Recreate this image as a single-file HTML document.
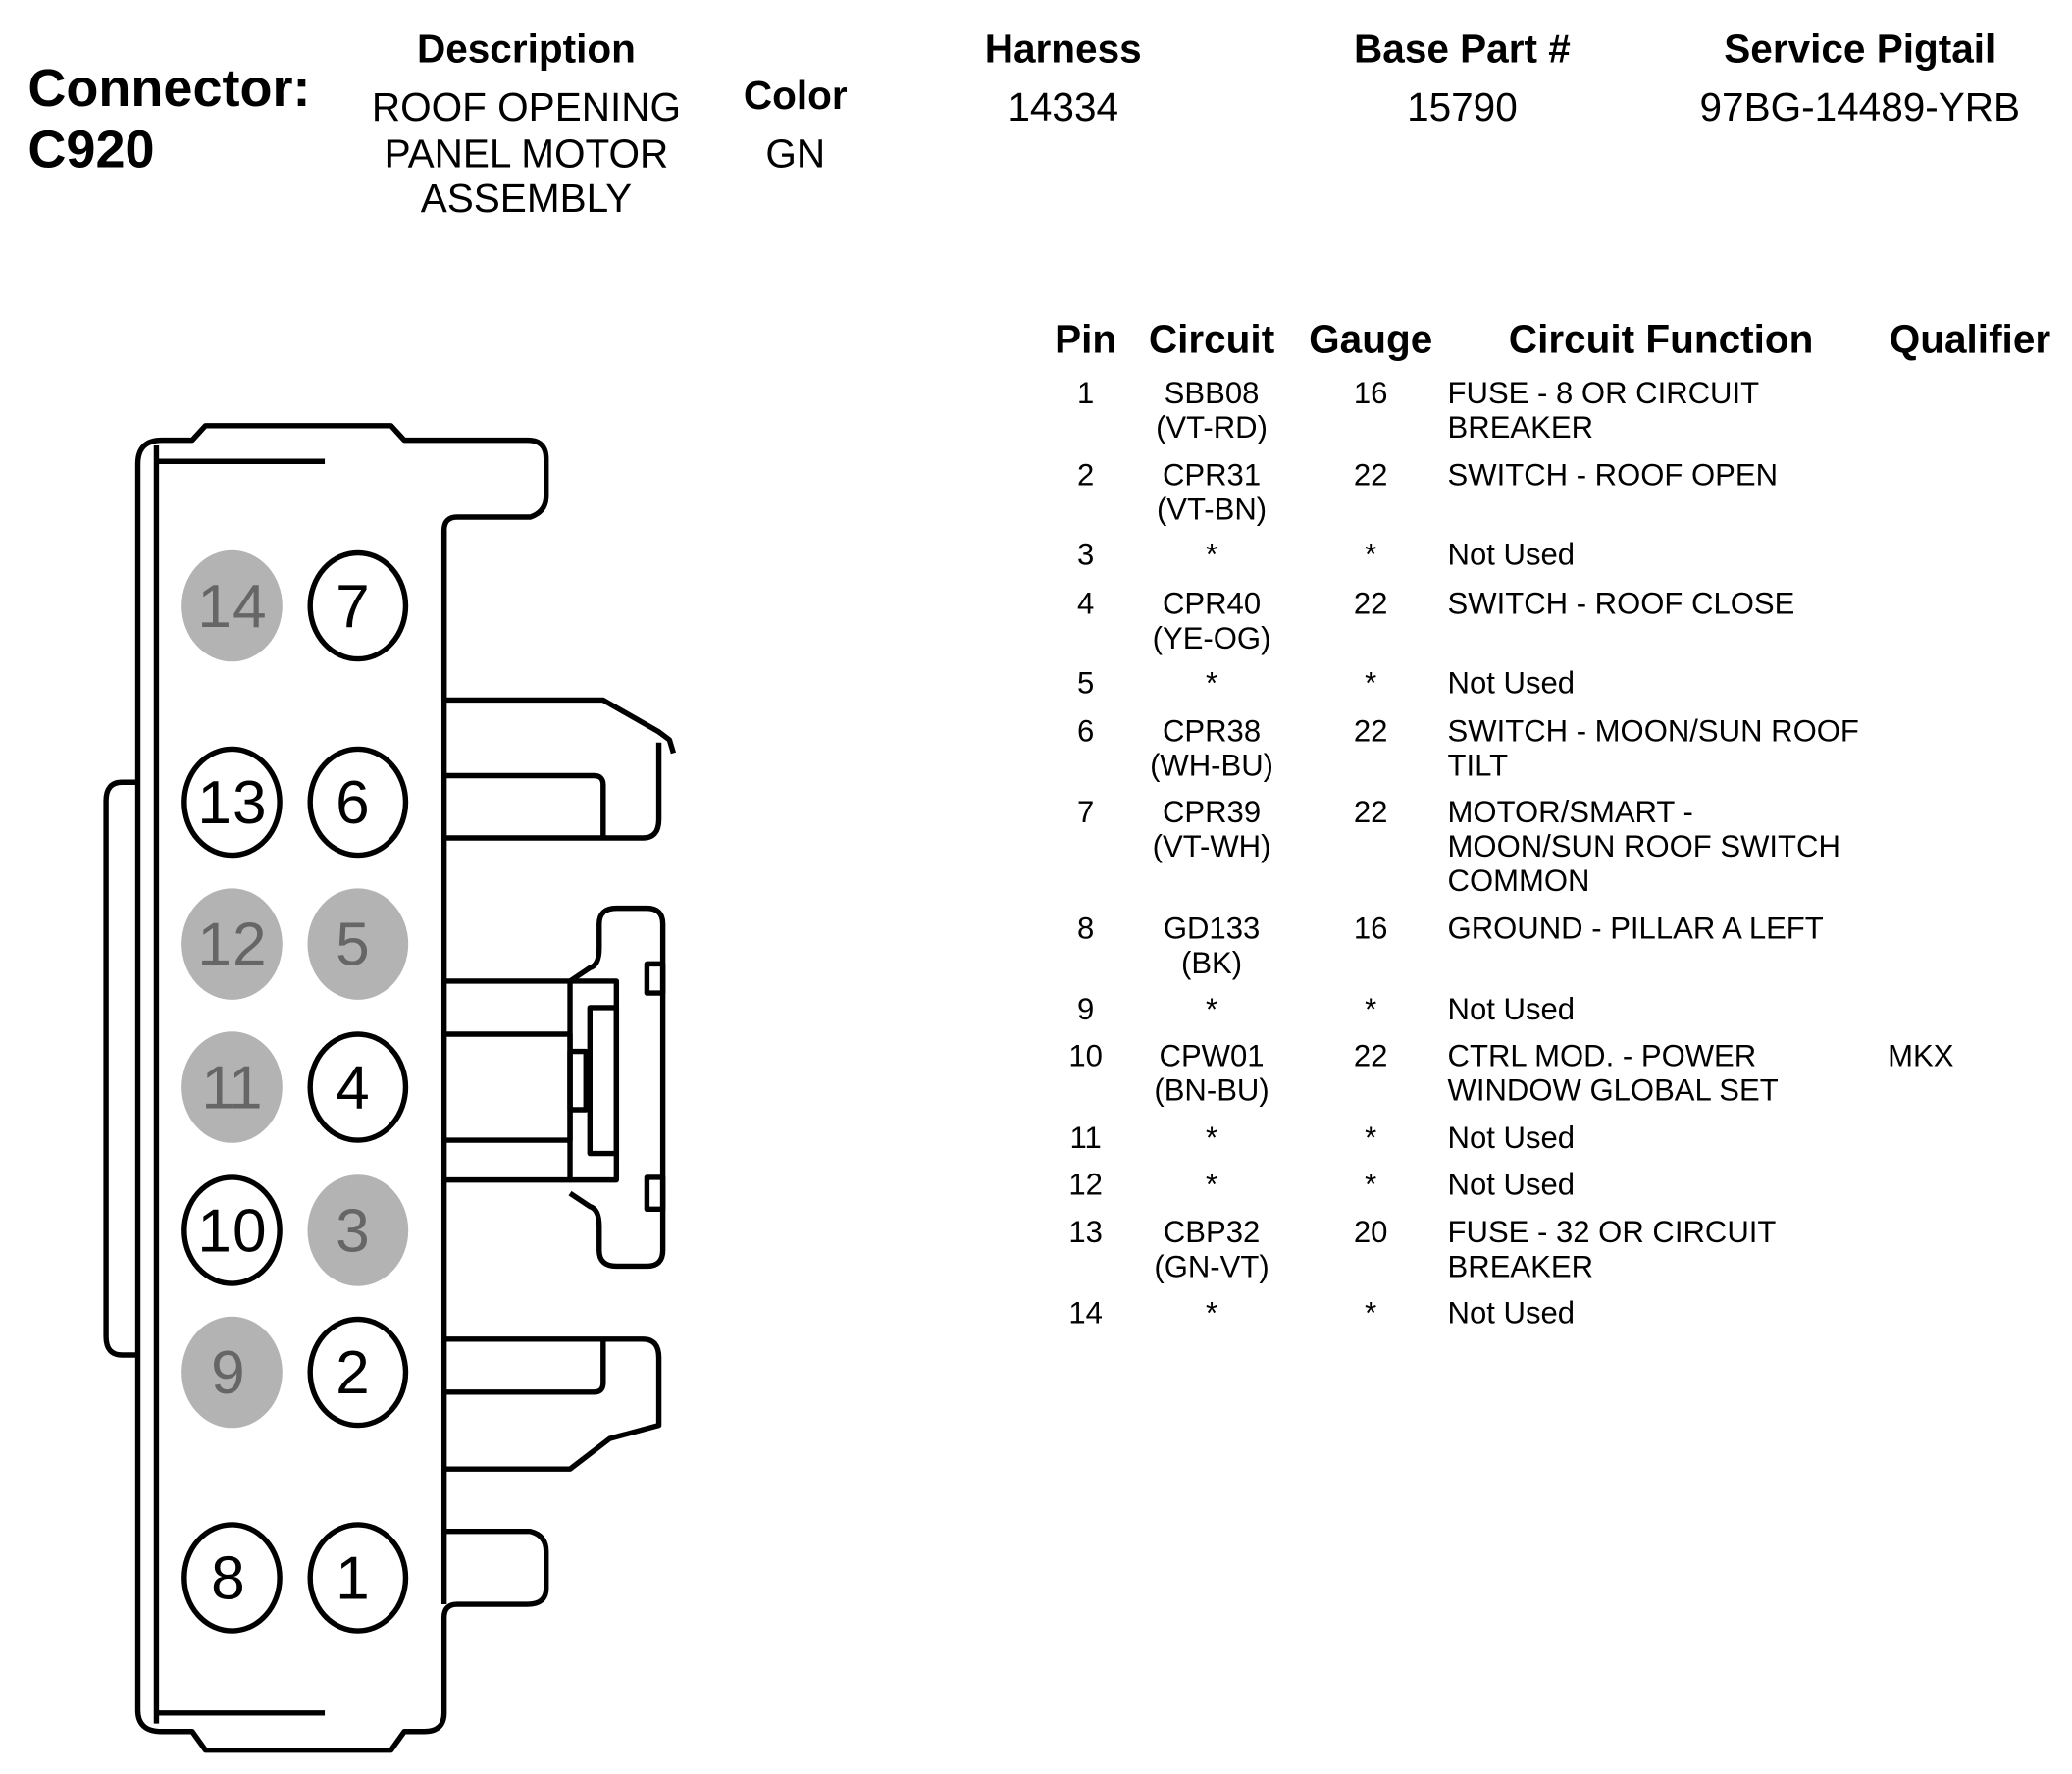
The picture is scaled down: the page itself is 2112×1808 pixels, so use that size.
<!DOCTYPE html>
<html><head><meta charset="utf-8"><style>
html,body{margin:0;padding:0;background:#fff;}
svg{display:block;}
text{font-family:"Liberation Sans",Arial,sans-serif;fill:#000;}
.b{font-weight:bold;}
.h{font-size:30px;font-weight:bold;text-anchor:middle;}
.v{font-size:30px;text-anchor:middle;}
.t{font-size:23px;}
.c{text-anchor:middle;}
.pin{font-size:46px;text-anchor:middle;}
.g{fill:#666;}
</style></head><body>
<svg width="2112" height="1808" viewBox="0 0 1563 1338" xmlns="http://www.w3.org/2000/svg">
<rect width="1563" height="1338" fill="#fff"/>
<text x="21" y="80" class="b" font-size="40">Connector:</text>
<text x="21" y="126" class="b" font-size="40">C920</text>
<text x="397" y="47" class="h">Description</text>
<text x="397" y="91" class="v">ROOF OPENING</text>
<text x="397" y="126" class="v">PANEL MOTOR</text>
<text x="397" y="160" class="v">ASSEMBLY</text>
<text x="600" y="82" class="h">Color</text>
<text x="600" y="126" class="v">GN</text>
<text x="802" y="47" class="h">Harness</text>
<text x="802" y="91" class="v">14334</text>
<text x="1103" y="47" class="h">Base Part #</text>
<text x="1103" y="91" class="v">15790</text>
<text x="1403" y="47" class="h">Service Pigtail</text>
<text x="1403" y="91" class="v">97BG-14489-YRB</text>
<g transform="translate(-3,-2)">
<text x="822" y="268" class="h">Pin</text>
<text x="917" y="268" class="h">Circuit</text>
<text x="1037" y="268" class="h">Gauge</text>
<text x="1256" y="268" class="h">Circuit Function</text>
<text x="1489" y="268" class="h">Qualifier</text>
<g class="t">
<text x="822" y="306" class="c">1</text><text x="917" y="306" class="c">SBB08</text><text x="917" y="332" class="c">(VT-RD)</text><text x="1037" y="306" class="c">16</text><text x="1095" y="306">FUSE - 8 OR CIRCUIT</text><text x="1095" y="332">BREAKER</text>
<text x="822" y="368" class="c">2</text><text x="917" y="368" class="c">CPR31</text><text x="917" y="394" class="c">(VT-BN)</text><text x="1037" y="368" class="c">22</text><text x="1095" y="368">SWITCH - ROOF OPEN</text>
<text x="822" y="428" class="c">3</text><text x="917" y="428" class="c">*</text><text x="1037" y="428" class="c">*</text><text x="1095" y="428">Not Used</text>
<text x="822" y="465" class="c">4</text><text x="917" y="465" class="c">CPR40</text><text x="917" y="491" class="c">(YE-OG)</text><text x="1037" y="465" class="c">22</text><text x="1095" y="465">SWITCH - ROOF CLOSE</text>
<text x="822" y="525" class="c">5</text><text x="917" y="525" class="c">*</text><text x="1037" y="525" class="c">*</text><text x="1095" y="525">Not Used</text>
<text x="822" y="561" class="c">6</text><text x="917" y="561" class="c">CPR38</text><text x="917" y="587" class="c">(WH-BU)</text><text x="1037" y="561" class="c">22</text><text x="1095" y="561">SWITCH - MOON/SUN ROOF</text><text x="1095" y="587">TILT</text>
<text x="822" y="622" class="c">7</text><text x="917" y="622" class="c">CPR39</text><text x="917" y="648" class="c">(VT-WH)</text><text x="1037" y="622" class="c">22</text><text x="1095" y="622">MOTOR/SMART -</text><text x="1095" y="648">MOON/SUN ROOF SWITCH</text><text x="1095" y="674">COMMON</text>
<text x="822" y="710" class="c">8</text><text x="917" y="710" class="c">GD133</text><text x="917" y="736" class="c">(BK)</text><text x="1037" y="710" class="c">16</text><text x="1095" y="710">GROUND - PILLAR A LEFT</text>
<text x="822" y="771" class="c">9</text><text x="917" y="771" class="c">*</text><text x="1037" y="771" class="c">*</text><text x="1095" y="771">Not Used</text>
<text x="822" y="806" class="c">10</text><text x="917" y="806" class="c">CPW01</text><text x="917" y="832" class="c">(BN-BU)</text><text x="1037" y="806" class="c">22</text><text x="1095" y="806">CTRL MOD. - POWER</text><text x="1095" y="832">WINDOW GLOBAL SET</text><text x="1427" y="806">MKX</text>
<text x="822" y="868" class="c">11</text><text x="917" y="868" class="c">*</text><text x="1037" y="868" class="c">*</text><text x="1095" y="868">Not Used</text>
<text x="822" y="903" class="c">12</text><text x="917" y="903" class="c">*</text><text x="1037" y="903" class="c">*</text><text x="1095" y="903">Not Used</text>
<text x="822" y="939" class="c">13</text><text x="917" y="939" class="c">CBP32</text><text x="917" y="965" class="c">(GN-VT)</text><text x="1037" y="939" class="c">20</text><text x="1095" y="939">FUSE - 32 OR CIRCUIT</text><text x="1095" y="965">BREAKER</text>
<text x="822" y="1000" class="c">14</text><text x="917" y="1000" class="c">*</text><text x="1037" y="1000" class="c">*</text><text x="1095" y="1000">Not Used</text>
</g>
</g>
<g fill="none" stroke="#000" stroke-width="4" stroke-linejoin="round">
<path d="M104,1290 L104,350 Q104,332 122,332 L145,332 L155,321 L295,321 L305,332 L398,332 Q412,332 412,346 L412,374 Q412,386 400,390 L345,390 Q335,390 335,400 L335,528 L455,528 L497,552 L505,558 L508,568 M497,560 L497,618 Q497,632 485,632 L335,632 M335,585 L448,585 Q455,585 455,592 L455,632 M335,740 L430,740 M335,780 L430,780 L430,860 L335,860 M335,890 L430,890 M335,1010 L485,1010 Q497,1010 497,1024 L497,1075 L460,1085 L430,1108 L335,1108 M335,1050 L448,1050 Q455,1050 455,1043 L455,1010 M335,1155 L400,1155 Q412,1158 412,1170 L412,1198 Q412,1210 398,1210 L345,1210 Q335,1210 335,1220 L335,1292 Q335,1306 320,1306 L305,1306 L295,1320 L155,1320 L145,1306 L122,1306 Q104,1306 104,1290"/>
<line x1="335" y1="400" x2="335" y2="1210"/>
<path d="M104,590 L92,590 Q80,590 80,604 L80,1008 Q80,1022 92,1022 L104,1022"/>
<line x1="118" y1="336" x2="118" y2="1300"/>
<line x1="118" y1="348" x2="245" y2="348"/>
<line x1="118" y1="1292" x2="245" y2="1292"/>
<rect x="430" y="740" width="35" height="150"/>
<rect x="445" y="760" width="20" height="110"/>
<rect x="430" y="793" width="12" height="44"/>
<path d="M430,740 L445,730 Q452,728 452,715 L452,697 Q452,685 465,685 L488,685 Q500,685 500,697 L500,943 Q500,955 488,955 L465,955 Q452,955 452,943 L452,925 Q452,912 445,910 L430,900"/>
<rect x="488" y="727" width="12" height="22"/>
<rect x="488" y="888" width="12" height="24"/>
</g>
<g stroke="#000" stroke-width="4" fill="#fff">
<ellipse cx="270" cy="457" rx="36" ry="40"/>
<ellipse cx="175" cy="605" rx="36" ry="40"/>
<ellipse cx="270" cy="605" rx="36" ry="40"/>
<ellipse cx="270" cy="820" rx="36" ry="40"/>
<ellipse cx="175" cy="928" rx="36" ry="40"/>
<ellipse cx="270" cy="1035" rx="36" ry="40"/>
<ellipse cx="175" cy="1190" rx="36" ry="40"/>
<ellipse cx="270" cy="1190" rx="36" ry="40"/>
</g>
<g fill="#b3b3b3">
<ellipse cx="175" cy="457" rx="38" ry="42"/>
<ellipse cx="175" cy="712" rx="38" ry="42"/>
<ellipse cx="270" cy="712" rx="38" ry="42"/>
<ellipse cx="175" cy="820" rx="38" ry="42"/>
<ellipse cx="270" cy="928" rx="38" ry="42"/>
<ellipse cx="175" cy="1035" rx="38" ry="42"/>
</g>
<g class="pin">
<text x="175" y="473" class="g" textLength="52">14</text>
<text x="266" y="473">7</text>
<text x="175" y="621" textLength="52">13</text>
<text x="266" y="621">6</text>
<text x="175" y="728" class="g" textLength="52">12</text>
<text x="266" y="728" class="g">5</text>
<text x="175" y="836" class="g" textLength="46">11</text>
<text x="266" y="836">4</text>
<text x="175" y="944" textLength="52">10</text>
<text x="266" y="944" class="g">3</text>
<text x="172" y="1051" class="g">9</text>
<text x="266" y="1051">2</text>
<text x="172" y="1206">8</text>
<text x="266" y="1206">1</text>
</g>
</svg>
</body></html>
